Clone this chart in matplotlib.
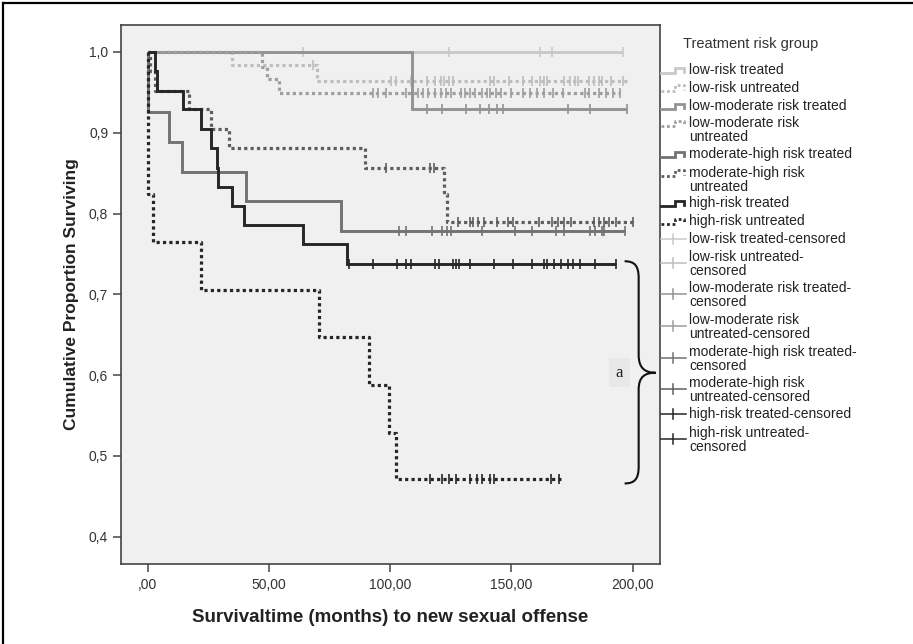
import numpy as np
import matplotlib
matplotlib.use('Agg')
import matplotlib.pyplot as plt
from matplotlib.lines import Line2D
from matplotlib.path import Path
from matplotlib.patches import PathPatch

plt.rcParams['font.family'] = ['Liberation Sans', 'DejaVu Sans']

# ---------------- data ----------------
group_names = ["low-risk treated", "low-risk untreated",
               "low-moderate risk treated", "low-moderate risk untreated",
               "moderate-high risk treated", "moderate-high risk untreated",
               "high-risk treated", "high-risk untreated"]

lr_t_events = []
lr_t_surv = []
lr_t_end = 196.0
lr_t_cens = [64.0, 124.3, 162.0, 166.9, 196.0]

lr_u_events = [34.9, 69.7]
lr_u_surv = [0.984, 0.964]
lr_u_end = 198.2
lr_u_cens = [68.0, 100.2, 102.3, 108.7, 115.1, 118.7, 120.8, 122.2, 124.3, 125.8,
             141.4, 142.8, 149.2, 154.9, 158.4, 162.0, 163.4, 164.8, 171.9, 174.1,
             176.2, 177.6, 181.9, 184.0, 186.1, 187.5, 191.1, 196.1]

lm_t_events = [109.1]
lm_t_surv = [0.929]
lm_t_end = 197.5
lm_t_cens = [115.1, 121.5, 131.4, 137.1, 140.7, 144.2, 146.4, 173.3, 182.6, 197.5]

lm_u_events = [47.0, 49.4, 54.0]
lm_u_surv = [0.982, 0.966, 0.949]
lm_u_end = 194.6
lm_u_cens = [93.1, 95.2, 98.1, 106.6, 111.6, 113.7, 115.8, 118.7, 120.8, 122.9,
             125.1, 129.3, 130.7, 132.9, 135.0, 137.8, 140.0, 141.4, 143.5, 145.7,
             149.9, 154.9, 157.7, 160.6, 163.4, 167.0, 171.2, 180.4, 181.9, 186.1,
             189.0, 191.8, 194.6]

mh_t_events = [0.0, 8.8, 14.0, 40.6, 79.6]
mh_t_surv = [0.926, 0.889, 0.852, 0.815, 0.778]
mh_t_end = 196.7
mh_t_cens = [103.8, 106.6, 117.2, 121.5, 123.6, 125.0, 137.8, 151.3, 158.4, 168.4,
             171.9, 182.6, 184.7, 187.5, 188.3, 196.7]

mh_u_events = [0.8, 2.9, 17.0, 26.0, 33.4, 89.6, 122.2, 123.6]
mh_u_surv = [0.976, 0.952, 0.929, 0.905, 0.881, 0.857, 0.824, 0.790]
mh_u_end = 200.3
mh_u_cens = [98.1, 116.5, 117.9, 127.9, 132.9, 134.3, 136.4, 138.6, 144.2, 148.5,
             150.6, 161.3, 166.9, 169.1, 171.9, 174.8, 184.0, 186.1, 188.2, 190.4,
             193.2, 200.3]

hr_t_events = [2.9, 3.7, 14.7, 22.0, 26.0, 28.7, 29.2, 34.9, 39.8, 64.0, 82.2]
hr_t_surv = [0.976, 0.952, 0.929, 0.905, 0.881, 0.857, 0.833, 0.810, 0.786, 0.762, 0.738]
hr_t_end = 193.2
hr_t_cens = [83.2, 93.1, 103.0, 106.6, 108.7, 118.7, 120.1, 125.8, 127.2, 128.6,
             132.9, 142.8, 150.6, 158.4, 163.4, 164.8, 167.7, 170.5, 173.3, 175.5,
             178.3, 184.7, 193.2]

hr_u_events = [0.0, 2.2, 22.1, 70.8, 91.3, 99.5, 102.6]
hr_u_surv = [0.824, 0.765, 0.706, 0.647, 0.588, 0.529, 0.471]
hr_u_end = 170.5
hr_u_cens = [116.5, 121.5, 124.3, 127.2, 132.9, 135.7, 137.8, 141.4, 142.8, 166.2, 169.8]

x_ticks = [0, 50, 100, 150, 200]
x_ticklabels = [",00", "50,00", "100,00", "150,00", "200,00"]
y_ticks = [0.4, 0.5, 0.6, 0.7, 0.8, 0.9, 1.0]
y_ticklabels = ["0,4", "0,5", "0,6", "0,7", "0,8", "0,9", "1,0"]

# ---------------- styles ----------------
DOT = (0, (1.0, 1.0))
styles = [
    dict(color="#C9C9C9", ls="-"),
    dict(color="#BDBDBD", ls=DOT),
    dict(color="#939393", ls="-"),
    dict(color="#9E9E9E", ls=DOT),
    dict(color="#727272", ls="-"),
    dict(color="#5E5E5E", ls=DOT),
    dict(color="#262626", ls="-"),
    dict(color="#262626", ls=DOT),
]
data = [
    (lr_t_events, lr_t_surv, lr_t_end, lr_t_cens),
    (lr_u_events, lr_u_surv, lr_u_end, lr_u_cens),
    (lm_t_events, lm_t_surv, lm_t_end, lm_t_cens),
    (lm_u_events, lm_u_surv, lm_u_end, lm_u_cens),
    (mh_t_events, mh_t_surv, mh_t_end, mh_t_cens),
    (mh_u_events, mh_u_surv, mh_u_end, mh_u_cens),
    (hr_t_events, hr_t_surv, hr_t_end, hr_t_cens),
    (hr_u_events, hr_u_surv, hr_u_end, hr_u_cens),
]


def stairs(events, surv, end):
    xs, ys = [0.0], [1.0]
    for t, s in zip(events, surv):
        xs += [t, t]
        ys += [ys[-1], s]
    xs.append(end)
    ys.append(ys[-1])
    return xs, ys


def surv_at(events, surv, t):
    val = 1.0
    for e, s in zip(events, surv):
        if t >= e:
            val = s
    return val


W, H = 913, 644
fig = plt.figure(figsize=(W / 100, H / 100), dpi=100)
fig.patch.set_facecolor("white")

ax = fig.add_axes([120.7 / W, 1 - 564 / H, (660 - 120.7) / W, (564 - 25) / H])
ax.set_facecolor("#F0F0F0")

for (ev, sv, end, cens), st in zip(data, styles):
    xs, ys = stairs(ev, sv, end)
    is_dot = st["ls"] != "-"
    ax.plot(xs, ys, color=st["color"], linestyle=st["ls"],
            lw=2.3 if is_dot else 2.1,
            dash_capstyle="butt", solid_joinstyle="miter", solid_capstyle="butt")
    cy = [surv_at(ev, sv, c) for c in cens]
    ax.plot(cens, cy, linestyle="none", marker="|", markersize=7.5,
            markeredgewidth=1.2, color=st["color"])

ax.set_xlim(-11.1, 211.3)
ax.set_ylim(0.3663, 1.0334)
ax.set_xticks(x_ticks)
ax.set_xticklabels(x_ticklabels)
ax.set_yticks(y_ticks)
ax.set_yticklabels(y_ticklabels)
ax.tick_params(axis="both", direction="out", length=6, width=1.1,
               color="#444444", labelsize=10, labelcolor="#333333", pad=3)
ax.tick_params(axis="x", pad=4)
for sp in ax.spines.values():
    sp.set_color("#444444")
    sp.set_linewidth(1.2)

ax.set_xlabel("Survivaltime (months) to new sexual offense", fontsize=13.5,
              fontweight="bold", color="#222222", labelpad=12)
ax.set_ylabel("Cumulative Proportion Surviving", fontsize=12.5,
              fontweight="bold", color="#222222", labelpad=7)

# ---------------- brace and "a" ----------------
verts = [(196.7, 0.741), (201.0, 0.741), (202.5, 0.735), (202.5, 0.720),
         (202.5, 0.625),
         (202.5, 0.609), (205.0, 0.603), (209.5, 0.603),
         (205.0, 0.603), (202.5, 0.598), (202.5, 0.582),
         (202.5, 0.487),
         (202.5, 0.472), (201.0, 0.466), (196.7, 0.466)]
codes = [Path.MOVETO, Path.CURVE4, Path.CURVE4, Path.CURVE4,
         Path.LINETO,
         Path.CURVE4, Path.CURVE4, Path.CURVE4,
         Path.CURVE4, Path.CURVE4, Path.CURVE4,
         Path.LINETO,
         Path.CURVE4, Path.CURVE4, Path.CURVE4]
ax.add_patch(PathPatch(Path(verts, codes), fill=False, edgecolor="#111111",
                       lw=1.5, clip_on=False))
ax.text(194.5, 0.603, "a", family=["Liberation Serif", "DejaVu Serif"],
        fontsize=12, ha="center", va="center", color="#222222",
        bbox=dict(boxstyle="square,pad=0.4", fc="#E8E8E8", ec="none"))


# ---------------- legend (drawn manually) ----------------
def fx(px):
    return px / W


def fy(py):
    return 1 - py / H


fig.text(fx(683), fy(44), "Treatment risk group", fontsize=10.5,
         color="#333333", ha="left", va="center")

line_entries = [  # (text lines, y of first line)
    (["low-risk treated"], 70.0),
    (["low-risk untreated"], 87.7),
    (["low-moderate risk treated"], 106.0),
    (["low-moderate risk", "untreated"], 123.3),
    (["moderate-high risk treated"], 154.3),
    (["moderate-high risk", "untreated"], 172.7),
    (["high-risk treated"], 203.3),
    (["high-risk untreated"], 221.0),
]
cens_entries = [
    (["low-risk treated-censored"], 239.3),
    (["low-risk untreated-", "censored"], 256.7),
    (["low-moderate risk treated-", "censored"], 288.3),
    (["low-moderate risk", "untreated-censored"], 320.0),
    (["moderate-high risk treated-", "censored"], 351.7),
    (["moderate-high risk", "untreated-censored"], 382.7),
    (["high-risk treated-censored"], 414.0),
    (["high-risk untreated-", "censored"], 432.7),
]
LS = 14.0
TX = 689

for (lines, y0), st in zip(line_entries, styles):
    for k, t in enumerate(lines):
        fig.text(fx(TX), fy(y0 + k * LS), t, fontsize=10, color="#222222",
                 ha="left", va="center")
    yl, yh = y0 + 3.0, y0 - 2.5
    xsx = [fx(661), fx(675), fx(675), fx(684), fx(684)]
    ysx = [fy(yl), fy(yl), fy(yh), fy(yh), fy(yl - 1)]
    fig.add_artist(Line2D(xsx, ysx, color=st["color"], linestyle=st["ls"],
                          lw=2.0, transform=fig.transFigure,
                          dash_capstyle="butt", solid_joinstyle="miter"))

for (lines, y0), st in zip(cens_entries, styles):
    for k, t in enumerate(lines):
        fig.text(fx(TX), fy(y0 + k * LS), t, fontsize=10, color="#222222",
                 ha="left", va="center")
    yc = y0 if len(lines) == 1 else y0 + 6
    fig.add_artist(Line2D([fx(661), fx(686)], [fy(yc), fy(yc)], color=st["color"],
                          lw=1.1, transform=fig.transFigure))
    fig.add_artist(Line2D([fx(673), fx(673)], [fy(yc - 5), fy(yc + 5)],
                          color=st["color"], lw=1.1, transform=fig.transFigure))

# outer frame (top and left edges visible)
fig.add_artist(Line2D([fx(3), fx(913)], [fy(3), fy(3)], color="black", lw=1.6,
                      transform=fig.transFigure))
fig.add_artist(Line2D([fx(3), fx(3)], [fy(3), fy(644)], color="black", lw=1.6,
                      transform=fig.transFigure))

fig.savefig("out.png", dpi=100)
